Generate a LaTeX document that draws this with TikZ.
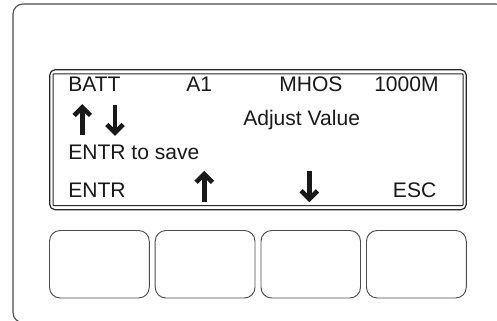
\documentclass[tikz,border=0pt]{standalone}
\usepackage{fontspec}
\setmainfont{Liberation Sans}
\tikzset{
  shell/.style={draw=black!70,line width=0.85pt,rounded corners=7.5pt},
  keycap/.style={draw=black!70,line width=0.7pt,rounded corners=8pt},
  lcdo/.style={draw=black!85,line width=0.9pt,rounded corners=4pt},
  lcdi/.style={draw=black!85,line width=0.75pt,rounded corners=0.5pt},
  lab/.style={inner sep=0pt,anchor=base west,font=\fontsize{15.8}{18}\selectfont,text=black!90},
  arrowbar/.style={line width=3.4pt,draw=black!90,line join=miter,miter limit=10},
  uparrow/.pic={
    \draw[arrowbar] (0,31) -- (0,3);
    \draw[arrowbar] (-8.2,11.5) -- (0,3.3) -- (8.2,11.5);
  },
  downarrow/.pic={
    \draw[arrowbar] (0,0) -- (0,28);
    \draw[arrowbar] (-8.2,19.5) -- (0,27.7) -- (8.2,19.5);
  },
}
\begin{document}
\begin{tikzpicture}[x=0.75pt,y=-0.75pt]
\useasboundingbox (0,0) rectangle (497,321);
\fill[white] (0,0) rectangle (497,321);
\begin{scope}
\clip (0,0) rectangle (497,321);
\draw[shell] (13,4) rectangle (506,322.6);
\end{scope}
\draw[lcdo] (49.7,69.8) rectangle (466.3,209.7);
\draw[lcdi] (53,74) rectangle (463,205.7);
\draw[keycap] (49.5,230.5) rectangle (149.3,298);
\draw[keycap] (155.2,230.5) rectangle (255,298);
\draw[keycap] (261,230.5) rectangle (360.5,298);
\draw[keycap] (366.5,230.5) rectangle (466.3,298);
\node[lab] (batt) at (68,92) {BATT};
\node[lab] (aone) at (186,92) {A1};
\node[lab] (mhos) at (279,92) {MHOS};
\node[lab] (meg) at (374,92) {1000M};
\node[lab] (adj) at (243,125.7) {Adjust Value};
\node[lab] (save) at (68,160) {ENTR to save};
\node[lab] (entr) at (68,197.7) {ENTR};
\node[lab] (esc) at (392.7,197.7) {ESC};
\pic at (82.3,104) {uparrow};
\pic at (115,105) {downarrow};
\pic at (204.3,170.8) {uparrow};
\pic at (309.3,171.3) {downarrow};
\end{tikzpicture}
\end{document}
